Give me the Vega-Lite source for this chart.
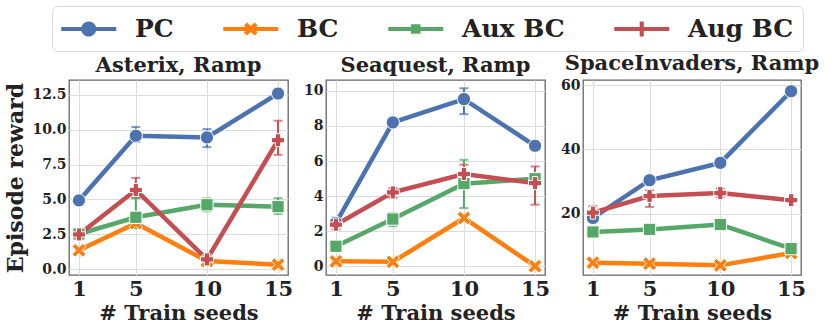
{
  "$schema": "https://vega.github.io/schema/vega-lite/v6.json",
  "padding": {"left": 4, "top": 5, "right": 2, "bottom": 2},
  "bounds": "flush",
  "spacing": 38,
  "config": {
    "font": "DejaVu Serif",
    "view": {"stroke": "#666666", "strokeWidth": 1.3},
    "axis": {"labelFont": "DejaVu Serif", "labelFontWeight": "bold", "titleFont": "DejaVu Serif", "titleFontWeight": "bold", "labelColor": "#222222", "titleColor": "#222222", "grid": true, "gridColor": "#dcdcdc", "gridWidth": 1, "domain": false, "ticks": false, "tickSize": 0},
    "axisX": {"labelFontSize": 21, "titleFontSize": 21, "labelPadding": 3, "titlePadding": 3, "labelAngle": 0},
    "axisY": {"labelFontSize": 14, "titleFontSize": 22, "labelPadding": 3, "titlePadding": 4},
    "title": {"font": "DejaVu Serif", "fontSize": 21, "fontWeight": "bold", "color": "#222222", "offset": 4},
    "legend": {
      "orient": "none", "legendX": -17, "legendY": -74, "direction": "horizontal", "title": null,
      "labelFont": "DejaVu Serif", "labelFontWeight": "bold", "labelFontSize": 25, "labelColor": "#222222",
      "symbolSize": 756, "symbolOpacity": 1, "symbolStrokeWidth": 0, "labelOffset": 46, "columnPadding": 49, "padding": 9,
      "strokeColor": "#d8d8d8", "fillColor": "white", "cornerRadius": 5
    }
  },
  "datasets": {
    "d": [
      {"game": "Asterix", "method": "PC", "seeds": 1, "value": 4.93, "lo": 4.8, "hi": 5.05},
      {"game": "Asterix", "method": "PC", "seeds": 5, "value": 9.57, "lo": 9.13, "hi": 10.2},
      {"game": "Asterix", "method": "PC", "seeds": 10, "value": 9.45, "lo": 8.75, "hi": 10.05},
      {"game": "Asterix", "method": "PC", "seeds": 15, "value": 12.6, "lo": 12.3, "hi": 12.9},
      {"game": "Asterix", "method": "BC", "seeds": 1, "value": 1.35, "lo": 1.25, "hi": 1.5},
      {"game": "Asterix", "method": "BC", "seeds": 5, "value": 3.3, "lo": 2.95, "hi": 3.55},
      {"game": "Asterix", "method": "BC", "seeds": 10, "value": 0.58, "lo": 0.5, "hi": 0.65},
      {"game": "Asterix", "method": "BC", "seeds": 15, "value": 0.32, "lo": 0.25, "hi": 0.4},
      {"game": "Asterix", "method": "Aux BC", "seeds": 1, "value": 2.52, "lo": 2.4, "hi": 2.65},
      {"game": "Asterix", "method": "Aux BC", "seeds": 5, "value": 3.72, "lo": 2.95, "hi": 5.1},
      {"game": "Asterix", "method": "Aux BC", "seeds": 10, "value": 4.62, "lo": 4.15, "hi": 5.08},
      {"game": "Asterix", "method": "Aux BC", "seeds": 15, "value": 4.48, "lo": 3.95, "hi": 5.1},
      {"game": "Asterix", "method": "Aug BC", "seeds": 1, "value": 2.49, "lo": 2.25, "hi": 2.75},
      {"game": "Asterix", "method": "Aug BC", "seeds": 5, "value": 5.68, "lo": 5.1, "hi": 6.55},
      {"game": "Asterix", "method": "Aug BC", "seeds": 10, "value": 0.7, "lo": 0.4, "hi": 1.0},
      {"game": "Asterix", "method": "Aug BC", "seeds": 15, "value": 9.25, "lo": 8.2, "hi": 10.65},
      {"game": "Seaquest", "method": "PC", "seeds": 1, "value": 2.47, "lo": 2.18, "hi": 2.78},
      {"game": "Seaquest", "method": "PC", "seeds": 5, "value": 8.2, "lo": 8.1, "hi": 8.3},
      {"game": "Seaquest", "method": "PC", "seeds": 10, "value": 9.53, "lo": 8.67, "hi": 10.15},
      {"game": "Seaquest", "method": "PC", "seeds": 15, "value": 6.87, "lo": 6.75, "hi": 7.0},
      {"game": "Seaquest", "method": "BC", "seeds": 1, "value": 0.28, "lo": 0.2, "hi": 0.35},
      {"game": "Seaquest", "method": "BC", "seeds": 5, "value": 0.25, "lo": 0.15, "hi": 0.35},
      {"game": "Seaquest", "method": "BC", "seeds": 10, "value": 2.75, "lo": 2.55, "hi": 2.95},
      {"game": "Seaquest", "method": "BC", "seeds": 15, "value": 0.0, "lo": -0.05, "hi": 0.05},
      {"game": "Seaquest", "method": "Aux BC", "seeds": 1, "value": 1.14, "lo": 0.85, "hi": 1.42},
      {"game": "Seaquest", "method": "Aux BC", "seeds": 5, "value": 2.69, "lo": 2.28, "hi": 3.04},
      {"game": "Seaquest", "method": "Aux BC", "seeds": 10, "value": 4.71, "lo": 3.32, "hi": 6.07},
      {"game": "Seaquest", "method": "Aux BC", "seeds": 15, "value": 4.99, "lo": 4.75, "hi": 5.2},
      {"game": "Seaquest", "method": "Aug BC", "seeds": 1, "value": 2.37, "lo": 2.1, "hi": 2.65},
      {"game": "Seaquest", "method": "Aug BC", "seeds": 5, "value": 4.21, "lo": 3.89, "hi": 4.46},
      {"game": "Seaquest", "method": "Aug BC", "seeds": 10, "value": 5.26, "lo": 4.74, "hi": 5.79},
      {"game": "Seaquest", "method": "Aug BC", "seeds": 15, "value": 4.74, "lo": 3.51, "hi": 5.69},
      {"game": "SpaceInvaders", "method": "PC", "seeds": 1, "value": 18.65, "lo": 17.4, "hi": 20.0},
      {"game": "SpaceInvaders", "method": "PC", "seeds": 5, "value": 30.4, "lo": 29.8, "hi": 31.0},
      {"game": "SpaceInvaders", "method": "PC", "seeds": 10, "value": 35.8, "lo": 35.2, "hi": 36.4},
      {"game": "SpaceInvaders", "method": "PC", "seeds": 15, "value": 58.1, "lo": 57.5, "hi": 58.7},
      {"game": "SpaceInvaders", "method": "BC", "seeds": 1, "value": 4.73, "lo": 4.3, "hi": 5.1},
      {"game": "SpaceInvaders", "method": "BC", "seeds": 5, "value": 4.42, "lo": 4.0, "hi": 4.9},
      {"game": "SpaceInvaders", "method": "BC", "seeds": 10, "value": 3.9, "lo": 3.5, "hi": 4.3},
      {"game": "SpaceInvaders", "method": "BC", "seeds": 15, "value": 7.75, "lo": 6.9, "hi": 8.6},
      {"game": "SpaceInvaders", "method": "Aux BC", "seeds": 1, "value": 14.3, "lo": 14.0, "hi": 14.6},
      {"game": "SpaceInvaders", "method": "Aux BC", "seeds": 5, "value": 15.1, "lo": 14.6, "hi": 15.6},
      {"game": "SpaceInvaders", "method": "Aux BC", "seeds": 10, "value": 16.6, "lo": 16.0, "hi": 17.2},
      {"game": "SpaceInvaders", "method": "Aux BC", "seeds": 15, "value": 9.1, "lo": 8.4, "hi": 9.8},
      {"game": "SpaceInvaders", "method": "Aug BC", "seeds": 1, "value": 20.3, "lo": 18.4, "hi": 22.3},
      {"game": "SpaceInvaders", "method": "Aug BC", "seeds": 5, "value": 25.5, "lo": 22.1, "hi": 27.3},
      {"game": "SpaceInvaders", "method": "Aug BC", "seeds": 10, "value": 26.4, "lo": 25.2, "hi": 27.8},
      {"game": "SpaceInvaders", "method": "Aug BC", "seeds": 15, "value": 24.2, "lo": 23.6, "hi": 24.8}
    ]
  },
  "hconcat": [
    {
      "width": 219, "height": 195,
      "title": "Asterix, Ramp",
      "data": {"name": "d"},
      "transform": [{"filter": "datum.game === 'Asterix'"}],
      "encoding": {
        "x": {"field": "seeds", "type": "quantitative", "scale": {"domain": [0.3, 15.7], "nice": false, "zero": false}, "axis": {"values": [1, 5, 10, 15], "title": "# Train seeds"}},
        "y": {"field": "value", "type": "quantitative", "scale": {"domain": [-0.42, 13.57], "nice": false, "zero": false}, "axis": {"values": [0, 2.5, 5, 7.5, 10, 12.5], "format": ".1f", "title": "Episode reward"}},
        "color": {"field": "method", "type": "nominal", "scale": {"domain": ["PC", "BC", "Aux BC", "Aug BC"], "range": ["#4C72B0", "#FF7F0E", "#55A868", "#C44E52"]}, "legend": {"title": null}}
      },
      "layer": [
        {"mark": {"type": "errorbar", "ticks": {"size": 9}, "thickness": 2},
         "encoding": {"y": {"field": "lo", "type": "quantitative", "title": "Episode reward"}, "y2": {"field": "hi"}}},
        {"mark": {"type": "line", "strokeWidth": 4.5}},
        {"transform": [{"filter": "datum.method === 'PC'"}], "mark": {"type": "point", "filled": true, "shape": "circle", "size": 175, "stroke": "white", "strokeWidth": 1, "opacity": 1}},
        {"transform": [{"filter": "datum.method === 'BC'"}], "mark": {"type": "point", "filled": true, "shape": "M-1,-0.55L-0.55,-1L0,-0.45L0.55,-1L1,-0.55L0.45,0L1,0.55L0.55,1L0,0.45L-0.55,1L-1,0.55L-0.45,0Z", "size": 190, "stroke": "white", "strokeWidth": 1, "opacity": 1}},
        {"transform": [{"filter": "datum.method === 'Aux BC'"}], "mark": {"type": "point", "filled": true, "shape": "square", "size": 150, "stroke": "white", "strokeWidth": 1, "opacity": 1}},
        {"transform": [{"filter": "datum.method === 'Aug BC'"}], "mark": {"type": "point", "filled": true, "shape": "cross", "size": 170, "stroke": "white", "strokeWidth": 1, "opacity": 1}},
        {"transform": [{"filter": "false"}], "mark": {"type": "point", "filled": true, "size": 756, "opacity": 1},
         "encoding": {"shape": {"field": "method", "type": "nominal", "legend": {"title": null}, "scale": {"domain": ["PC", "BC", "Aux BC", "Aug BC"], "range": [
           "M-1,-0.145H3V0.145H-1ZM1.55,0A0.55,0.55,0,1,1,0.45,0A0.55,0.55,0,1,1,1.55,0Z",
           "M-1,-0.145H3V0.145H-1ZM0.5,-0.26L0.72,-0.48L1,-0.22L1.28,-0.48L1.5,-0.26L1.24,0L1.5,0.26L1.28,0.48L1,0.22L0.72,0.48L0.5,0.26L0.76,0Z",
           "M-1,-0.145H3V0.145H-1ZM0.65,-0.35H1.35V0.35H0.65Z",
           "M-1,-0.145H3V0.145H-1ZM0.85,-0.55H1.15V-0.15H1.5V0.15H1.15V0.55H0.85V0.15H0.5V-0.15H0.85Z"]}}}}
      ]
    },
    {
      "width": 219, "height": 195,
      "title": "Seaquest, Ramp",
      "data": {"name": "d"},
      "transform": [{"filter": "datum.game === 'Seaquest'"}],
      "encoding": {
        "x": {"field": "seeds", "type": "quantitative", "scale": {"domain": [0.3, 15.7], "nice": false, "zero": false}, "axis": {"values": [1, 5, 10, 15], "title": "# Train seeds"}},
        "y": {"field": "value", "type": "quantitative", "scale": {"domain": [-0.5, 10.62], "nice": false, "zero": false}, "axis": {"values": [0, 2, 4, 6, 8, 10], "title": null}},
        "color": {"field": "method", "type": "nominal", "scale": {"domain": ["PC", "BC", "Aux BC", "Aug BC"], "range": ["#4C72B0", "#FF7F0E", "#55A868", "#C44E52"]}, "legend": {"title": null}}
      },
      "layer": [
        {"mark": {"type": "errorbar", "ticks": {"size": 9}, "thickness": 2},
         "encoding": {"y": {"field": "lo", "type": "quantitative", "title": null}, "y2": {"field": "hi"}}},
        {"mark": {"type": "line", "strokeWidth": 4.5}},
        {"transform": [{"filter": "datum.method === 'PC'"}], "mark": {"type": "point", "filled": true, "shape": "circle", "size": 175, "stroke": "white", "strokeWidth": 1, "opacity": 1}},
        {"transform": [{"filter": "datum.method === 'BC'"}], "mark": {"type": "point", "filled": true, "shape": "M-1,-0.55L-0.55,-1L0,-0.45L0.55,-1L1,-0.55L0.45,0L1,0.55L0.55,1L0,0.45L-0.55,1L-1,0.55L-0.45,0Z", "size": 190, "stroke": "white", "strokeWidth": 1, "opacity": 1}},
        {"transform": [{"filter": "datum.method === 'Aux BC'"}], "mark": {"type": "point", "filled": true, "shape": "square", "size": 150, "stroke": "white", "strokeWidth": 1, "opacity": 1}},
        {"transform": [{"filter": "datum.method === 'Aug BC'"}], "mark": {"type": "point", "filled": true, "shape": "cross", "size": 170, "stroke": "white", "strokeWidth": 1, "opacity": 1}}
      ]
    },
    {
      "width": 218, "height": 195,
      "title": "SpaceInvaders, Ramp",
      "data": {"name": "d"},
      "transform": [{"filter": "datum.game === 'SpaceInvaders'"}],
      "encoding": {
        "x": {"field": "seeds", "type": "quantitative", "scale": {"domain": [0.3, 15.7], "nice": false, "zero": false}, "axis": {"values": [1, 5, 10, 15], "title": "# Train seeds"}},
        "y": {"field": "value", "type": "quantitative", "scale": {"domain": [0.9, 61.6], "nice": false, "zero": false}, "axis": {"values": [20, 40, 60], "title": null}},
        "color": {"field": "method", "type": "nominal", "scale": {"domain": ["PC", "BC", "Aux BC", "Aug BC"], "range": ["#4C72B0", "#FF7F0E", "#55A868", "#C44E52"]}, "legend": {"title": null}}
      },
      "layer": [
        {"mark": {"type": "errorbar", "ticks": {"size": 9}, "thickness": 2},
         "encoding": {"y": {"field": "lo", "type": "quantitative", "title": null}, "y2": {"field": "hi"}}},
        {"mark": {"type": "line", "strokeWidth": 4.5}},
        {"transform": [{"filter": "datum.method === 'PC'"}], "mark": {"type": "point", "filled": true, "shape": "circle", "size": 175, "stroke": "white", "strokeWidth": 1, "opacity": 1}},
        {"transform": [{"filter": "datum.method === 'BC'"}], "mark": {"type": "point", "filled": true, "shape": "M-1,-0.55L-0.55,-1L0,-0.45L0.55,-1L1,-0.55L0.45,0L1,0.55L0.55,1L0,0.45L-0.55,1L-1,0.55L-0.45,0Z", "size": 190, "stroke": "white", "strokeWidth": 1, "opacity": 1}},
        {"transform": [{"filter": "datum.method === 'Aux BC'"}], "mark": {"type": "point", "filled": true, "shape": "square", "size": 150, "stroke": "white", "strokeWidth": 1, "opacity": 1}},
        {"transform": [{"filter": "datum.method === 'Aug BC'"}], "mark": {"type": "point", "filled": true, "shape": "cross", "size": 170, "stroke": "white", "strokeWidth": 1, "opacity": 1}}
      ]
    }
  ]
}
